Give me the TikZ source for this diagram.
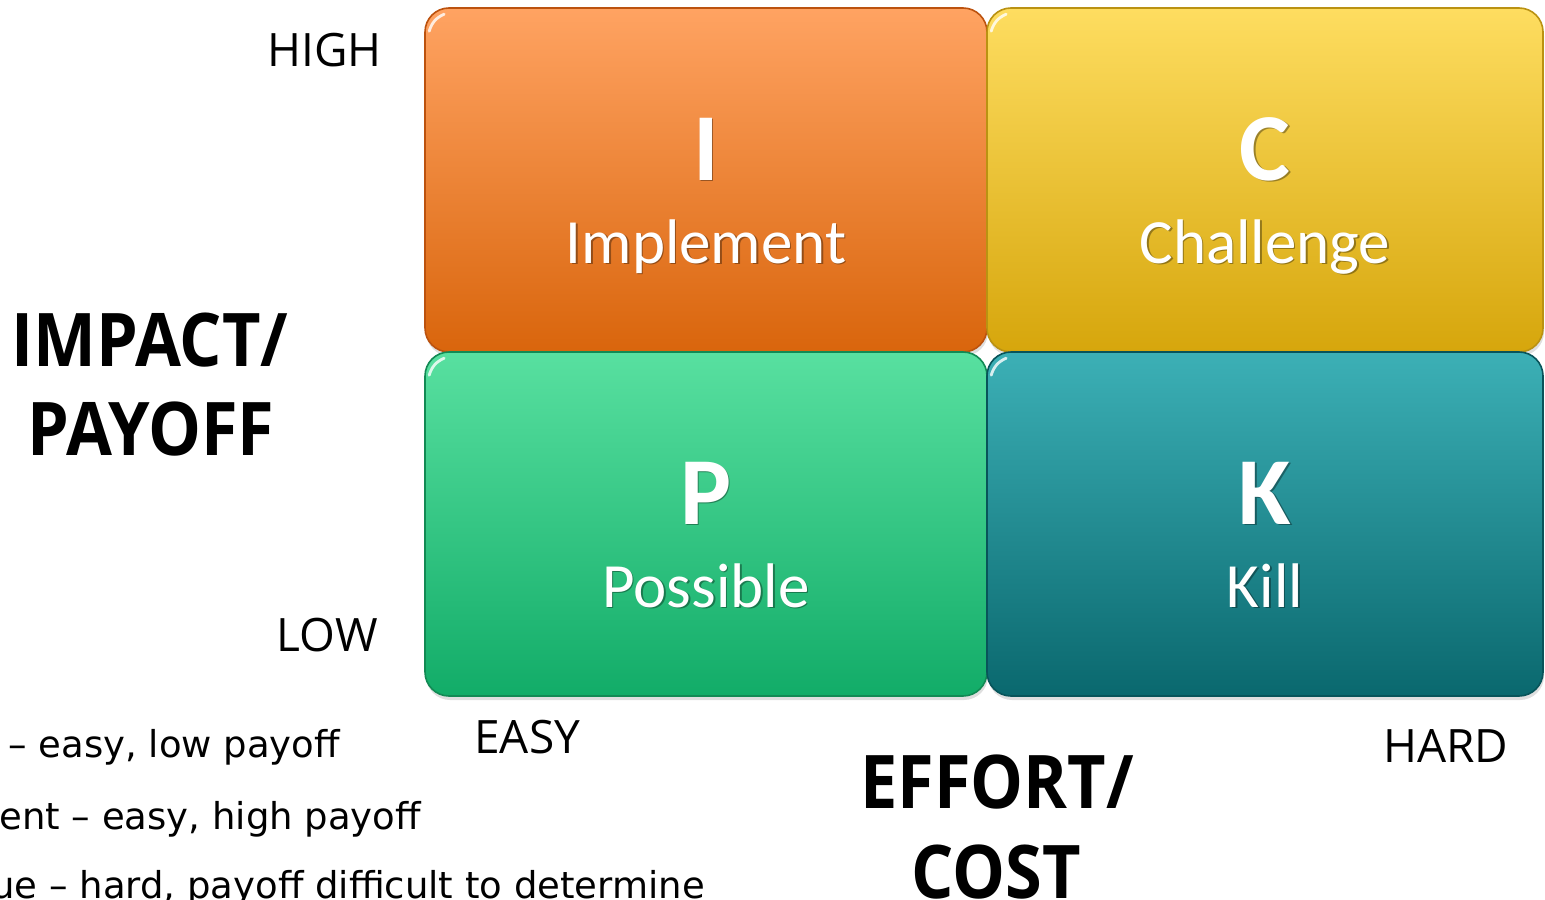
\documentclass[tikz,border=0pt]{standalone}
\usepackage{fontspec}
\setmainfont{Carlito}
\newfontfamily\axisfont{Open Sans}
\newfontfamily\headfont[FakeStretch=0.9]{Open Sans}
\newfontfamily\notefont{DejaVu Sans}
\usetikzlibrary{shadows}

% quadrant colours (top, bottom, edge)
\definecolor{impTop}{RGB}{255,163,98}
\definecolor{impBot}{RGB}{217,101,12}
\definecolor{impEdge}{RGB}{188,82,14}
\definecolor{chlTop}{RGB}{254,221,96}
\definecolor{chlBot}{RGB}{214,166,12}
\definecolor{chlEdge}{RGB}{186,146,18}
\definecolor{posTop}{RGB}{88,224,160}
\definecolor{posBot}{RGB}{18,172,104}
\definecolor{posEdge}{RGB}{18,138,84}
\definecolor{kilTop}{RGB}{60,176,182}
\definecolor{kilBot}{RGB}{10,104,110}
\definecolor{kilEdge}{RGB}{8,84,90}

\tikzset{
  quad/.style={rectangle, rounded corners=12pt, minimum height=172pt,
    inner sep=0pt, line width=0.8pt,
    drop shadow={opacity=0.25, shadow xshift=0.5pt, shadow yshift=-2pt}},
  gloss/.style={white, opacity=0.8, line width=1.4pt, line cap=round},
  letter/.style={font=\bfseries\fontsize{48}{48}\selectfont, text=white, anchor=base},
  word/.style={font=\fontsize{31.5}{32}\selectfont, text=white, anchor=base},
  dropped/.style={text=black, opacity=0.35},
  level/.style={font=\axisfont\fontsize{23}{23}\selectfont, inner sep=0pt},
  heading/.style={font=\headfont\bfseries\fontsize{37}{37}\selectfont, anchor=base},
  note/.style={font=\notefont\fontsize{18.5}{18.5}\selectfont, anchor=base west,
    inner sep=0pt}
}

\begin{document}
\begin{tikzpicture}[x=0.5pt, y=-0.5pt]
  \useasboundingbox (0,0) rectangle (1545,899);
  \clip (0,0) rectangle (1545,899);

  % Quadrants
  \foreach \nm/\cx/\cy/\bw/\ltr/\wrd in {imp/706/180/281/I/Implement,
      chl/1265/180/278/C/Challenge, pos/706/524/281/P/Possible,
      kil/1265/524/278/K/Kill} {
    \node[quad, minimum width=\bw pt, top color=\nm Top, bottom color=\nm Bot,
      draw=\nm Edge] (\nm) at (\cx,\cy) {};
    \draw[gloss] ([xshift=2.5pt,yshift=-12pt]\nm.north west)
      to[bend left=25] ([xshift=10pt,yshift=-3.5pt]\nm.north west);
    % letter and word, with a soft shadow behind
    \node[letter, dropped] (\nm ls) at (\cx+1.5,\cy+1.5) {\ltr};
    \node[letter] (\nm l) at (\cx,\cy) {\ltr};
    \node[word, dropped] (\nm ws) at (\cx+1.5,\cy+84.5) {\wrd};
    \node[word] (\nm w) at (\cx,\cy+83) {\wrd};
  }

  % Axis levels
  \node[level, anchor=base east] (high) at (382,67) {HIGH};
  \node[level, anchor=base east] (low) at (378,651) {LOW};
  \node[level, anchor=base west] (easy) at (474,753) {EASY};
  \node[level, anchor=base west] (hard) at (1383,762) {HARD};

  % Axis headings
  \node[heading] (impact) at (150,366) {IMPACT/};
  \node[heading] (payoff) at (151,455) {PAYOFF};
  \node[heading] (effort) at (997,808) {EFFORT/};
  \node[heading] (cost) at (996,898) {COST};

  % Notes
  \node[note] (noteP) at (8,757) {– easy, low payoff};
  \node[note] (noteI) at (-1,829) {ent – easy, high payoff};
  \node[note] (noteC) at (-9,898) {ue – hard, payoff difficult to determine};
\end{tikzpicture}
\end{document}
